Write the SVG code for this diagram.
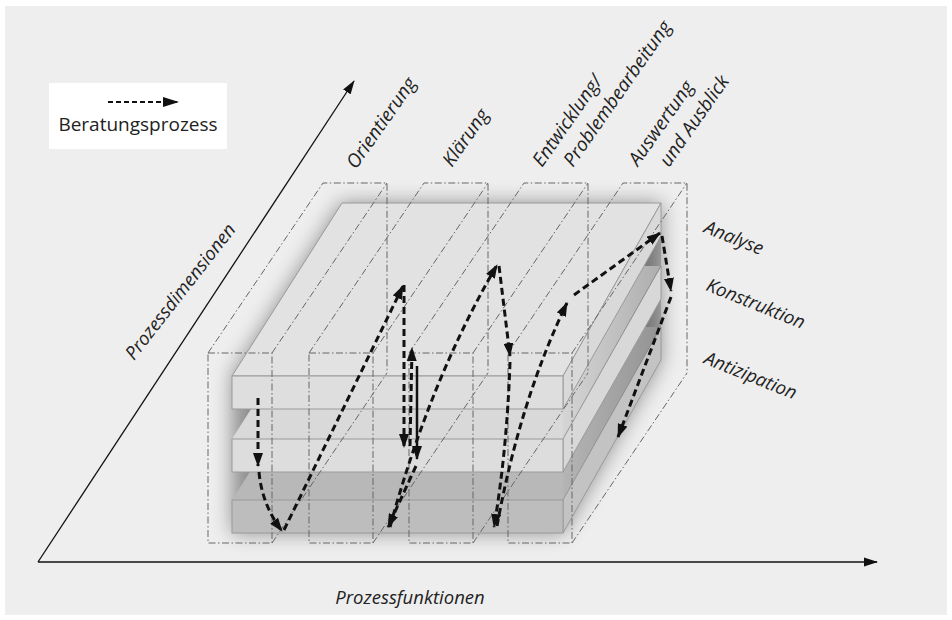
<svg xmlns="http://www.w3.org/2000/svg" width="952" height="620" viewBox="0 0 952 620">
<defs>
<style>
.lbl{font-family:"Open Sans","Noto Sans","Liberation Sans",sans-serif;font-style:italic;font-size:18.5px;fill:#222}
.top{font-size:19px}
.dd{fill:none;stroke:#666;stroke-width:1;stroke-dasharray:7 2.5 1.5 2.5}
.edge{stroke:#9a9a9a;stroke-width:1}
.flow{fill:none;stroke:#111;stroke-width:3;stroke-dasharray:7 4;marker-end:url(#ah)}
.axis{fill:none;stroke:#111;stroke-width:1.3;marker-end:url(#ax)}
</style>
<marker id="ah" markerUnits="userSpaceOnUse" viewBox="0 0 14 10" markerWidth="14" markerHeight="10" refX="13" refY="5" orient="auto">
<path d="M0,0 L14,5 L0,10 z" fill="#111"/>
</marker>
<marker id="ax" markerUnits="userSpaceOnUse" viewBox="0 0 14 10" markerWidth="14" markerHeight="10" refX="13" refY="5" orient="auto">
<path d="M0,0.5 L14,5 L0,9.5 z" fill="#111"/>
</marker>
<marker id="lh" markerUnits="userSpaceOnUse" viewBox="0 0 16 10" markerWidth="16" markerHeight="10" refX="15" refY="5" orient="auto">
<path d="M0,0 L16,5 L0,10 z" fill="#111"/>
</marker>
<filter id="blur" x="-20%" y="-20%" width="140%" height="140%">
<feGaussianBlur stdDeviation="10"/>
</filter>
<linearGradient id="band" x1="0" y1="0" x2="1" y2="0">
<stop offset="0" stop-color="#000" stop-opacity="0.02"/>
<stop offset="1" stop-color="#000" stop-opacity="0.2"/>
</linearGradient>
</defs>

<rect x="5" y="6" width="942" height="609" fill="#eeeeee"/>

<g id="legend">
<rect x="49" y="83" width="178" height="66" fill="#ffffff"/>
<line x1="108" y1="102" x2="178" y2="102" stroke="#111" stroke-width="2.2" stroke-dasharray="5 3" marker-end="url(#lh)"/>
<text x="138" y="131" text-anchor="middle" font-family="'Open Sans','Noto Sans','Liberation Sans',sans-serif" font-size="19" fill="#222">Beratungsprozess</text>
</g>

<g id="axes">
<line class="axis" x1="38" y1="562" x2="877" y2="562"/>
<line class="axis" x1="38" y1="562" x2="354" y2="81"/>
<text class="lbl" x="410" y="604" text-anchor="middle">Prozessfunktionen</text>
<text class="lbl" transform="translate(134,361) rotate(-52)">Prozessdimensionen</text>
</g>

<g id="block">
<polygon points="232,376 342,203 661,203 661,360 563,533 232,533" fill="#000" opacity="0.4" filter="url(#blur)"/>
<g id="slab-antizipation">
<polygon points="232,500 563,500 661,327 342,327" fill="#b8b8b8"/>
<polygon points="563,500 661,327 661,360 563,533" class="edge" fill="#c3c3c3"/>
<rect x="232" y="500" width="331" height="33" class="edge" fill="#bdbdbd"/>
</g>
<g id="slab-konstruktion">
<polygon points="232,439 563,439 661,266 342,266" fill="#d9d9d9"/>
<polygon points="563,472 661,299 661,327 563,500" fill="url(#band)"/>
<polygon points="563,439 661,266 661,299 563,472" class="edge" fill="#d8d8d8"/>
<rect x="232" y="439" width="331" height="33" class="edge" fill="#dddddd"/>
</g>
<g id="slab-analyse">
<polygon points="563,409 661,236 661,266 563,439" fill="url(#band)"/>
<polygon points="232,376 563,376 661,203 342,203" class="edge" fill="#e2e2e2"/>
<polygon points="563,376 661,203 661,236 563,409" class="edge" fill="#d9d9d9"/>
<rect x="232" y="376" width="331" height="33" class="edge" fill="#dedede"/>
</g>
</g>

<g id="col-orientierung">
<path class="dd" d="M208,353 H272 V543 H208 Z M208,353 L323,183 H387 V373 M272,353 L387,183 M272,543 L387,373"/>
<text class="lbl top" transform="translate(356,170) rotate(-55)">Orientierung</text>
</g>
<g id="col-klaerung">
<path class="dd" d="M309,353 H373 V543 H309 Z M309,353 L424,183 H488 V373 M373,353 L488,183 M373,543 L488,373"/>
<text class="lbl top" transform="translate(452,168) rotate(-55)">Klärung</text>
</g>
<g id="col-entwicklung">
<path class="dd" d="M409,353 H473 V543 H409 Z M409,353 L524,183 H588 V373 M473,353 L588,183 M473,543 L588,373"/>
<text class="lbl top" transform="translate(542,168) rotate(-55)">Entwicklung/</text>
<text class="lbl top" transform="translate(573,168) rotate(-55)">Problembearbeitung</text>
</g>
<g id="col-auswertung">
<path class="dd" d="M508,353 H572 V543 H508 Z M508,353 L623,183 H687 V373 M572,353 L687,183 M572,543 L687,373"/>
<text class="lbl top" transform="translate(638,167) rotate(-55)">Auswertung</text>
<text class="lbl top" transform="translate(669,168) rotate(-55)">und Ausblick</text>
</g>

<g id="layer-labels">
<text class="lbl" transform="translate(703,232) rotate(22)">Analyse</text>
<text class="lbl" transform="translate(705,290) rotate(22)">Konstruktion</text>
<text class="lbl" transform="translate(703,363) rotate(22)">Antizipation</text>
</g>

<g id="connectors">
<path class="flow" d="M258,398 L258,466"/>
<path class="flow" d="M259,472 Q262,505 282,531"/>
<path class="flow" d="M284,530 L403,286"/>
<path class="flow" d="M404,285 L404,447"/>
<path class="flow" d="M410,446 L412,348"/>
<path fill="none" stroke="#111" stroke-width="2.5" marker-end="url(#ah)" d="M417,366 L417,459"/>
<path class="flow" d="M416,466 L388,527"/>
<path class="flow" d="M390,527 Q430,380 497,265"/>
<path class="flow" d="M499,266 L510,356"/>
<path class="flow" d="M510,362 Q507,450 494,527"/>
<path class="flow" d="M497,526 Q520,400 567,303"/>
<path class="flow" d="M574,295 L660,233"/>
<path class="flow" d="M662,236 L671,291"/>
<path class="flow" d="M671,297 L618,437"/>
</g>
</svg>
